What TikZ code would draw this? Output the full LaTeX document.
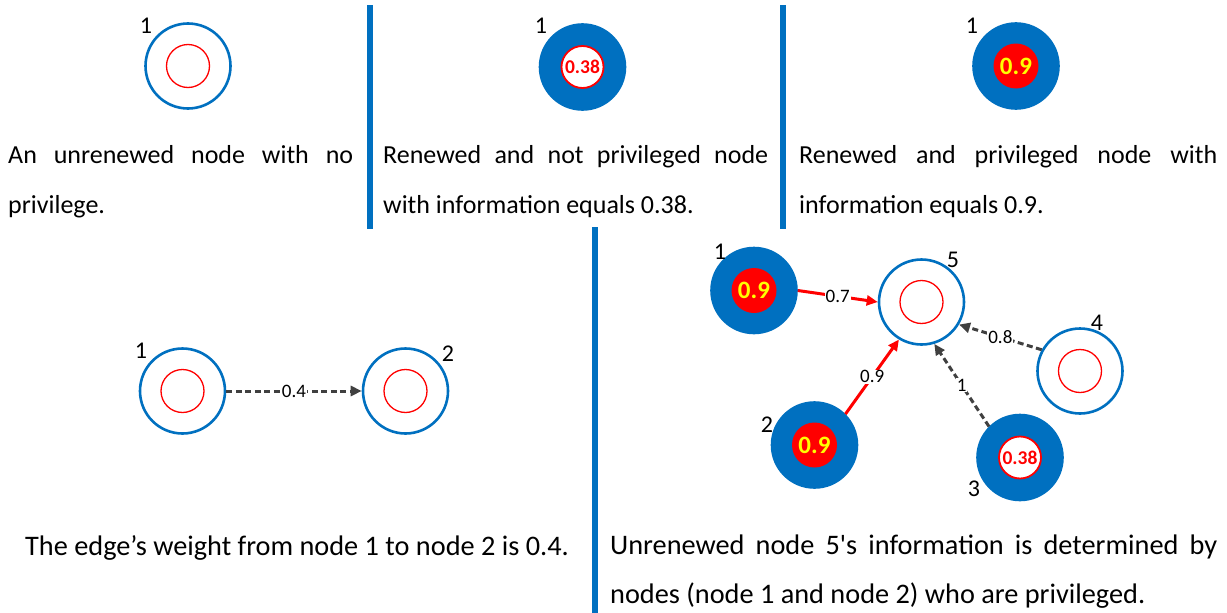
\documentclass[tikz,border=0pt]{standalone}
\usepackage{fontspec}
\setmainfont{Carlito}[Ligatures=TeXOff]
\usetikzlibrary{arrows.meta}
\definecolor{nblue}{HTML}{0070C0}
\definecolor{nred}{HTML}{FF0000}
\definecolor{nyellow}{HTML}{FFFF00}
\definecolor{ngray}{HTML}{404040}
\begin{document}
\begin{tikzpicture}[x=1pt,y=-1pt,
  outer/.style={circle,minimum size=85pt,inner sep=0pt,line width=2.6pt},
  plainout/.style={outer,draw=nblue,fill=white},
  fillout/.style={outer,fill=nblue,draw=nblue},
  plainin/.style={circle,minimum size=43pt,inner sep=0pt,draw=nred,line width=1.3pt},
  midin/.style={circle,minimum size=42pt,inner sep=0pt,draw=nred,fill=white,line width=1.8pt,text=nred,font=\fontsize{19.5}{19.5}\selectfont\bfseries},
  privin/.style={circle,minimum size=45pt,inner sep=0pt,fill=nred,text=nyellow,font=\fontsize{25}{25}\selectfont\bfseries},
  num/.style={font=\fontsize{24}{24}\selectfont,inner sep=0pt},
  captxt/.style={font=\fontsize{26}{50}\selectfont,inner sep=0pt,anchor=base west},
  bcaptxt/.style={font=\fontsize{28.3}{50}\selectfont,inner sep=0pt,anchor=base west},
  divider/.style={draw=nblue,line width=5.5pt},
  elabel/.style={fill=white,inner sep=1pt,font=\fontsize{19}{19}\selectfont},
  redge/.style={draw=nred,line width=3pt,-{Triangle[length=11pt,width=10pt]}},
  gedge/.style={draw=ngray,line width=3pt,dash pattern=on 6pt off 3.5pt,-{Triangle[length=11pt,width=10pt]}}
]
\useasboundingbox[fill=white] (0,0) rectangle (1227,613);

% dividers
\draw[divider] (370,5) -- (370,229);
\draw[divider] (783,5) -- (783,229);
\draw[divider] (595,227) -- (595,613);

% top-left: unrenewed node
\node[plainout] (ta) at (188,66) {};
\node[plainin] (tai) at (188,66) {};
\node[num] (tal) at (146,26) {1};
\node[captxt] (tac1) at (8,163) {\makebox[345pt][s]{An unrenewed node with no}};
\node[captxt] (tac2) at (8,213) {privilege.};

% top-middle: renewed, not privileged
\node[fillout] (tb) at (582.5,67) {};
\node[midin] (tbi) at (582.5,67) {0.38};
\node[num] (tbl) at (541,26) {1};
\node[captxt] (tbc1) at (383,163) {\makebox[385pt][s]{Renewed and not privileged node}};
\node[captxt] (tbc2) at (383,213) {with information equals 0.38.};

% top-right: renewed and privileged
\node[fillout] (tc) at (1016,66) {};
\node[privin] (tci) at (1016,66) {0.9};
\node[num] (tcl) at (972,26) {1};
\node[captxt] (tcc1) at (799,163) {\makebox[418pt][s]{Renewed and privileged node with}};
\node[captxt] (tcc2) at (799,213) {information equals 0.9.};

% bottom-left: edge weight
\node[plainout] (b1) at (182.5,391) {};
\node[plainin] (b1i) at (182.5,391) {};
\node[num] (b1l) at (141,351) {1};
\node[plainout] (b2) at (405.5,391) {};
\node[plainin] (b2i) at (405.5,391) {};
\node[num] (b2l) at (448,354) {2};
\draw[gedge] (b1) -- node[elabel] {0.4} (b2);
\node[bcaptxt] (bc) at (25,555) {The edge’s weight from node 1 to node 2 is 0.4.};

% bottom-right: example graph
\node[fillout] (r1) at (754,290.5) {};
\node[privin] (r1i) at (754,290.5) {0.9};
\node[num] (r1l) at (720,252) {1};

\node[plainout] (r5) at (921.5,302) {};
\node[plainin] (r5i) at (921.5,302) {};
\node[num] (r5l) at (953,260) {5};

\node[fillout] (r2) at (814.5,445) {};
\node[privin] (r2i) at (814.5,445) {0.9};
\node[num] (r2l) at (767,425) {2};

\node[fillout] (r3) at (1020,457.5) {};
\node[midin] (r3i) at (1020,457.5) {0.38};
\node[num] (r3l) at (974,489) {3};

\node[plainout] (r4) at (1080,371) {};
\node[plainin] (r4i) at (1080,371) {};
\node[num] (r4l) at (1097,323) {4};

\draw[redge] (r1.0) -- node[elabel] {0.7} (r5.180);
\draw[redge] (r2.45) -- node[elabel] {0.9} (r5.-121);
\draw[gedge] (r3.135) -- node[elabel] {1} (r5.-73);
\draw[gedge] (r4.151) -- node[elabel] {0.8} (r5.-31);

\node[bcaptxt] (rc1) at (610,554) {\makebox[607pt][s]{Unrenewed node 5's information is determined by}};
\node[bcaptxt] (rc2) at (610,603) {nodes (node 1 and node 2) who are privileged.};
\end{tikzpicture}
\end{document}
